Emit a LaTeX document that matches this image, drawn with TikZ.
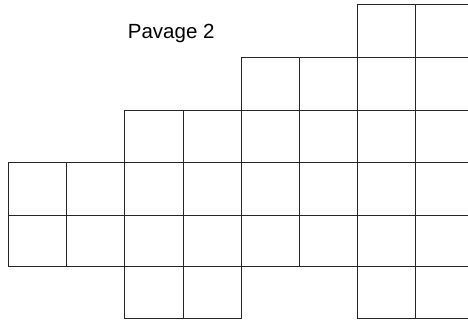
\documentclass[tikz,border=0pt]{standalone}
\usepackage{fontspec}
\setmainfont{Liberation Sans}
\begin{document}
\begin{tikzpicture}[x=1pt,y=-1pt,
  gridline/.style={line width=0.9pt,draw=black!85},
  titletext/.style={font=\fontsize{20.5}{24}\selectfont,inner sep=0pt,anchor=base west}]
\useasboundingbox (0,0) rectangle (468,322);
% horizontal lines
\draw[gridline] (357,4.7) -- (468,4.7);
\draw[gridline] (241.3,57.3) -- (468,57.3);
\draw[gridline] (124.3,110) -- (468,110);
\draw[gridline] (8.3,162.7) -- (468,162.7);
\draw[gridline] (8.3,215.3) -- (468,215.3);
\draw[gridline] (8.3,266) -- (468,266);
\draw[gridline] (124.3,318.5) -- (241.3,318.5);
\draw[gridline] (357,318.5) -- (468,318.5);
% vertical lines
\draw[gridline] (8.3,162.7) -- (8.3,266);
\draw[gridline] (66.3,162.7) -- (66.3,266);
\draw[gridline] (124.3,110) -- (124.3,318.5);
\draw[gridline] (183.3,110) -- (183.3,318.5);
\draw[gridline] (241.3,57.3) -- (241.3,318.5);
\draw[gridline] (299.3,57.3) -- (299.3,266);
\draw[gridline] (357,4.7) -- (357,318.5);
\draw[gridline] (415,4.7) -- (415,318.5);
% title
\node[titletext] (title) at (127.7,38.3) {Pavage 2};
\end{tikzpicture}
\end{document}
